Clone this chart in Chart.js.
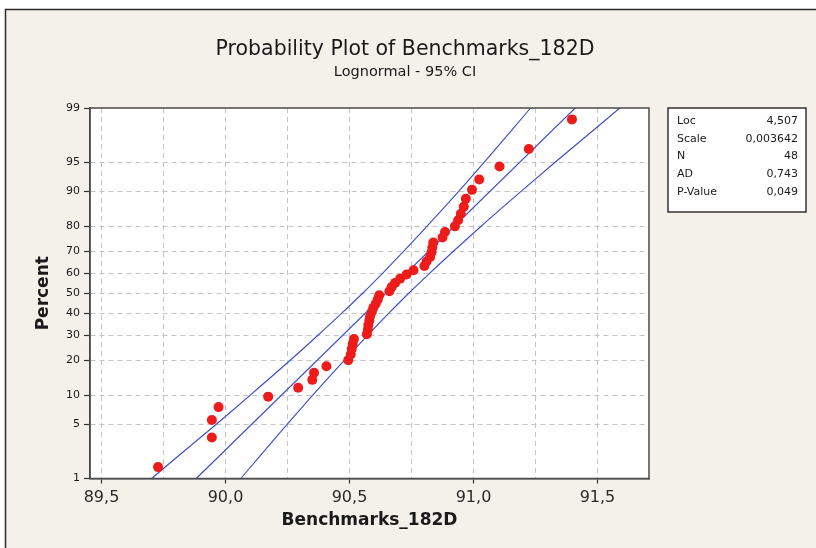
<!DOCTYPE html>
<html>
<head>
<meta charset="utf-8">
<script src="https://cdn.jsdelivr.net/npm/chart.js@4/dist/chart.umd.min.js"></script>
<style>
  html, body { margin: 0; padding: 0; background: #fff; }
  #wrap { width: 816px; height: 548px; }
</style>
</head>
<body>
<div id="wrap"><canvas id="probChart" width="816" height="548"></canvas></div>
<script>
// axis ticks
const percentTicks = [1, 5, 10, 20, 30, 40, 50, 60, 70, 80, 90, 95, 99];
const xTicks = [89.5, 89.75, 90.0, 90.25, 90.5, 90.75, 91.0, 91.25, 91.5];

// sorted observations and their plotted percent (median ranks)
const benchmarks = [
  89.728, 89.945, 89.945, 89.972, 90.172, 90.293, 90.350, 90.357, 90.407, 90.495,
  90.505, 90.509, 90.513, 90.518, 90.570, 90.574, 90.576, 90.580, 90.583, 90.590,
  90.596, 90.606, 90.614, 90.620, 90.661, 90.670, 90.684, 90.704, 90.730, 90.758,
  90.802, 90.811, 90.825, 90.831, 90.834, 90.838, 90.875, 90.885, 90.925, 90.938,
  90.949, 90.961, 90.969, 90.994, 91.023, 91.105, 91.223, 91.397
];
const plotPercent = [
  1.45, 3.51, 5.58, 7.64, 9.71, 11.78, 13.84, 15.91, 17.98, 20.04,
  22.11, 24.17, 26.24, 28.31, 30.37, 32.44, 34.50, 36.57, 38.64, 40.70,
  42.77, 44.83, 46.90, 48.97, 51.03, 53.10, 55.17, 57.23, 59.30, 61.36,
  63.43, 65.50, 67.56, 69.63, 71.69, 73.76, 75.83, 77.89, 79.96, 82.02,
  84.09, 86.16, 88.22, 90.29, 92.36, 94.42, 96.49, 98.55
];

// fitted line and 95% confidence band
const fitPercent = [1, 99];
const fitValue = [89.882, 91.410];
const ciPercent = [1, 2, 5, 10, 20, 30, 40, 50, 60, 70, 80, 90, 95, 98, 99];
const ciLow = [89.702, 89.806, 89.963, 90.099, 90.261, 90.374, 90.468, 90.553,
  90.634, 90.718, 90.813, 90.941, 91.043, 91.156, 91.230];
const ciHigh = [90.062, 90.136, 90.249, 90.351, 90.479, 90.574, 90.658, 90.739,
  90.824, 90.918, 91.031, 91.193, 91.329, 91.486, 91.590];

// summary table
const statLabels = ["Loc", "Scale", "N", "AD", "P-Value"];
const statValues = ["4,507", "0,003642", "48", "0,743", "0,049"];

// inverse normal cdf (Acklam) - the probability scale of the y axis
function probit(p) {
  const a = [-39.69683028665376, 220.9460984245205, -275.9285104469687, 138.357751867269, -30.66479806614716, 2.506628277459239];
  const b = [-54.47609879822406, 161.5858368580409, -155.6989798598866, 66.80131188771972, -13.28068155288572];
  const c = [-0.007784894002430293, -0.3223964580411365, -2.400758277161838, -2.549732539343734, 4.374664141464968, 2.938163982698783];
  const d = [0.007784695709041462, 0.3224671290700398, 2.445134137142996, 3.754408661907416];
  const pl = 0.02425;
  let q, r;
  if (p < pl) {
    q = Math.sqrt(-2 * Math.log(p));
    return (((((c[0]*q+c[1])*q+c[2])*q+c[3])*q+c[4])*q+c[5]) / ((((d[0]*q+d[1])*q+d[2])*q+d[3])*q+1);
  }
  if (p <= 1 - pl) {
    q = p - 0.5; r = q * q;
    return (((((a[0]*r+a[1])*r+a[2])*r+a[3])*r+a[4])*r+a[5])*q / (((((b[0]*r+b[1])*r+b[2])*r+b[3])*r+b[4])*r+1);
  }
  q = Math.sqrt(-2 * Math.log(1 - p));
  return -(((((c[0]*q+c[1])*q+c[2])*q+c[3])*q+c[4])*q+c[5]) / ((((d[0]*q+d[1])*q+d[2])*q+d[3])*q+1);
}
const z = (pct) => probit(pct / 100);

const toPoints = (xs, pcts) => xs.map((v, i) => ({ x: v, y: z(pcts[i]) }));

const FONT = "'DejaVu Sans', Verdana, sans-serif";
const BLUE = "#3a4cc9";
const GRID = "#c4c4c4";

const decorations = {
  id: "decorations",
  beforeDraw(chart) {
    const { ctx, width, height, chartArea: a } = chart;
    ctx.save();
    ctx.fillStyle = "#ffffff";
    ctx.fillRect(0, 0, width, height);
    ctx.fillStyle = "#f3f1ea";
    ctx.fillRect(5, 9, width - 5, height - 9);
    ctx.strokeStyle = "#2a2a2a";
    ctx.lineWidth = 1.5;
    ctx.beginPath();
    ctx.moveTo(5.5, height);
    ctx.lineTo(5.5, 9.5);
    ctx.lineTo(width, 9.5);
    ctx.stroke();
    ctx.fillStyle = "#ffffff";
    ctx.fillRect(a.left, a.top, a.right - a.left, a.bottom - a.top);
    ctx.restore();
  },
  afterDraw(chart) {
    const { ctx, width, chartArea: a } = chart;
    ctx.save();
    // plot frame
    ctx.strokeStyle = "#4a4a4a";
    ctx.lineWidth = 1.5;
    ctx.strokeRect(a.left, a.top, a.right - a.left, a.bottom - a.top);

    // titles
    ctx.fillStyle = "#1a1a1a";
    ctx.textAlign = "center";
    ctx.textBaseline = "middle";
    ctx.font = "20.5px " + FONT;
    ctx.fillText("Probability Plot of Benchmarks_182D", 405, 50);
    ctx.font = "14.5px " + FONT;
    ctx.fillText("Lognormal - 95% CI", 405, 72);

    // axis titles
    ctx.font = "bold 17px " + FONT;
    ctx.fillText("Benchmarks_182D", (a.left + a.right) / 2, 521);
    ctx.save();
    ctx.translate(44, (a.top + a.bottom) / 2);
    ctx.rotate(-Math.PI / 2);
    ctx.fillText("Percent", 0, 0);
    ctx.restore();

    // stats box
    const bx = 668, by = 108, bw = 138, bh = 104;
    ctx.fillStyle = "#ffffff";
    ctx.fillRect(bx, by, bw, bh);
    ctx.strokeStyle = "#333333";
    ctx.lineWidth = 1.5;
    ctx.strokeRect(bx, by, bw, bh);
    ctx.font = "11px " + FONT;
    ctx.fillStyle = "#1a1a1a";
    statLabels.forEach((lab, i) => {
      const y = 121 + i * 17.7;
      ctx.textAlign = "left";
      ctx.fillText(lab, bx + 9, y);
      ctx.textAlign = "right";
      ctx.fillText(statValues[i], bx + bw - 8, y);
    });
    ctx.restore();
  }
};

const ctx = document.getElementById("probChart").getContext("2d");

new Chart(ctx, {
  type: "scatter",
  data: {
    datasets: [
      {
        label: "Benchmarks_182D",
        data: toPoints(benchmarks, plotPercent),
        backgroundColor: "#ee1b1b",
        borderColor: "#ee1b1b",
        pointRadius: 5,
        pointBorderWidth: 0,
        showLine: false,
      },
      {
        label: "Fit",
        data: toPoints(fitValue, fitPercent),
        borderColor: BLUE,
        borderWidth: 1.1,
        pointRadius: 0,
        showLine: true,
      },
      {
        label: "Lower CI",
        data: toPoints(ciLow, ciPercent),
        borderColor: BLUE,
        borderWidth: 1.1,
        pointRadius: 0,
        showLine: true,
        cubicInterpolationMode: "monotone",
      },
      {
        label: "Upper CI",
        data: toPoints(ciHigh, ciPercent),
        borderColor: BLUE,
        borderWidth: 1.1,
        pointRadius: 0,
        showLine: true,
        cubicInterpolationMode: "monotone",
      },
    ],
  },
  options: {
    responsive: false,
    animation: false,
    layout: { padding: { top: 108, left: 0, right: 167, bottom: 0 } },
    plugins: {
      legend: { display: false },
      tooltip: { enabled: false },
    },
    scales: {
      x: {
        type: "linear",
        min: 89.4536,
        max: 91.7077,
        afterFit: (s) => { s.height = 69.5; },
        afterBuildTicks: (s) => { s.ticks = xTicks.map((v) => ({ value: v })); },
        ticks: {
          autoSkip: false,
          maxRotation: 0,
          padding: 5,
          color: "#2a2a2a",
          font: { family: FONT, size: 16 },
          callback: (v, i) => (i % 2 === 0 ? xTicks[i].toFixed(1).replace(".", ",") : ""),
        },
        grid: {
          color: GRID,
          tickLength: 5,
          tickColor: (c) => (c.index % 2 === 0 ? "#333" : "transparent"),
          tickWidth: 1.2,
        },
        border: { display: true, color: "#4a4a4a", width: 1.5, dash: [5, 4] },
      },
      y: {
        type: "linear",
        min: z(1),
        max: z(99),
        afterFit: (s) => { s.width = 90; },
        afterBuildTicks: (s) => { s.ticks = percentTicks.map((p) => ({ value: z(p) })); },
        ticks: {
          autoSkip: false,
          padding: 4,
          color: "#1a1a1a",
          font: { family: FONT, size: 11 },
          callback: (v, i) => String(percentTicks[i]),
        },
        grid: {
          color: (c) => (c.index === 0 || c.index === percentTicks.length - 1 ? "transparent" : GRID),
          tickLength: 6,
          tickColor: "#333",
          tickWidth: 1.2,
        },
        border: { display: true, color: "#4a4a4a", width: 1.5, dash: [5, 4] },
      },
    },
  },
  plugins: [decorations],
});
</script>
</body>
</html>
